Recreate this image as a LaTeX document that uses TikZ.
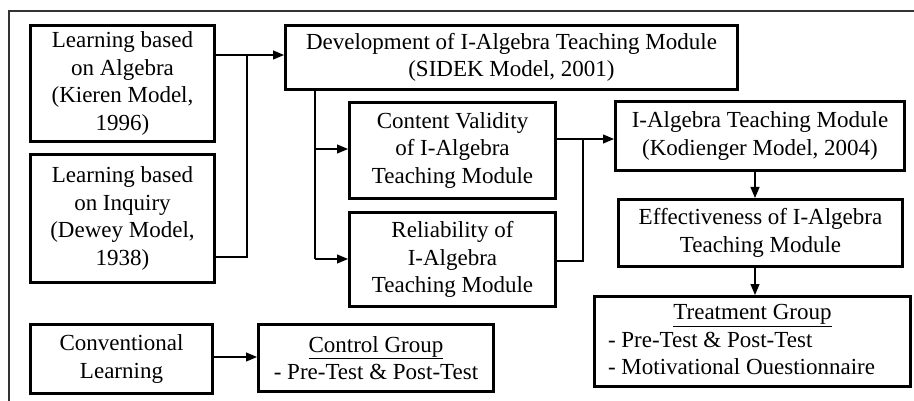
\documentclass[tikz,border=0pt]{standalone}
\usepackage{fontspec}
\setmainfont{Liberation Serif}
\usetikzlibrary{arrows.meta}
\begin{document}
\begin{tikzpicture}[x=1pt,y=-1pt,
  font=\fontsize{23}{27.5}\selectfont,
  box/.style={draw, line width=3.4pt, inner sep=0pt, align=center, anchor=center},
  link/.style={line width=1.2pt},
  arr/.style={line width=1.2pt, -{Triangle[length=11pt,width=9pt]}}]
\useasboundingbox (0,0) rectangle (914,401);
% outer frame (top and left only visible)
\draw[line width=1.3pt, black!80] (914,11) -- (9,11) -- (9,401);
% boxes
\node[box, minimum width=183.6pt, minimum height=115.6pt] (alg) at (122.5,83.5)
  {Learning based\\on Algebra\\(Kieren Model,\\1996)};
\node[box, minimum width=183.6pt, minimum height=127.6pt] (inq) at (122.5,218.5)
  {Learning based\\on Inquiry\\(Dewey Model,\\1938)};
\node[box, minimum width=181.6pt, minimum height=68.6pt] (conv) at (121.5,359)
  {Conventional\\Learning};
\node[box, minimum width=451.6pt, minimum height=63.6pt] (dev) at (511.5,57.5)
  {Development of I-Algebra Teaching Module\\(SIDEK Model, 2001)};
\node[box, minimum width=205.6pt, minimum height=95.6pt] (cv) at (452.5,150.5)
  {Content Validity\\of I-Algebra\\Teaching Module};
\node[box, minimum width=205.6pt, minimum height=93.6pt] (rel) at (452.5,259.5)
  {Reliability of\\I-Algebra\\Teaching Module};
\node[box, minimum width=288.6pt, minimum height=68.6pt] (kod) at (760,136)
  {I-Algebra Teaching Module\\(Kodienger Model, 2004)};
\node[box, minimum width=283.6pt, minimum height=66.6pt] (eff) at (760.5,233)
  {Effectiveness of I-Algebra\\Teaching Module};
\node[box, minimum width=234.6pt, minimum height=66.6pt] (ctl) at (376,358)
  {\underline{Control Group}\\- Pre-Test \& Post-Test};
\node[box, minimum width=315.6pt, minimum height=89.6pt] (trt) at (752.5,341.5)
  {\begin{tabular}{@{}p{289pt}@{}}\multicolumn{1}{@{}c@{}}{\underline{Treatment Group}}\\- Pre-Test \& Post-Test\\- Motivational Ouestionnaire\end{tabular}};
% junction coordinates
\coordinate (j1) at (247,55);
\coordinate (j2) at (247,257);
\coordinate (j3) at (315,149);
\coordinate (j4) at (315,259);
\coordinate (j5) at (583,139);
\coordinate (j6) at (583,261);
\coordinate (xk) at (755,0);
% connectors
\draw[link] (alg.east |- j1) -- (j1) -- (j2) -- (inq.east |- j2);
\draw[arr] (j1) -- (dev.west |- j1);
\draw[link] (dev.south -| j3) -- (j4);
\draw[arr] (j3) -- (cv.west |- j3);
\draw[arr] (j4) -- (rel.west |- j4);
\draw[link] (cv.east |- j5) -- (j5) -- (j6) -- (rel.east |- j6);
\draw[arr] (j5) -- (kod.west |- j5);
\draw[arr] (kod.south -| xk) -- (eff.north -| xk);
\draw[arr] (eff.south -| xk) -- (trt.north -| xk);
\draw[arr] (conv.east |- 0,357) -- (ctl.west |- 0,357);
\end{tikzpicture}
\end{document}
